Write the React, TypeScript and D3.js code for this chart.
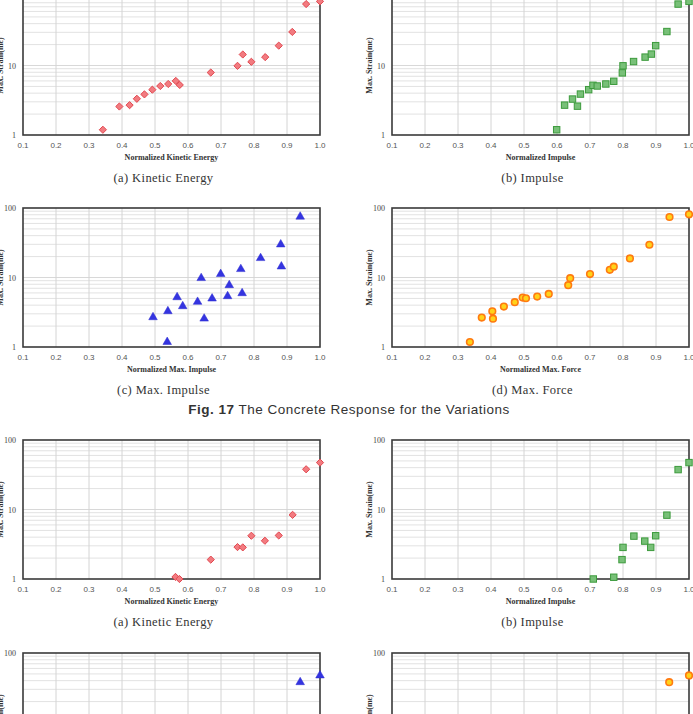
import * as d3 from 'd3';
import React from 'react';

// normalized value / max strain pairs
const keTop: [number, number][] = [
  [0.342, 1.19], [0.392, 2.57], [0.423, 2.69], [0.445, 3.32], [0.468, 3.84],
  [0.492, 4.49], [0.516, 5.07], [0.54, 5.42], [0.563, 6.0], [0.575, 5.25],
  [0.669, 7.92], [0.75, 9.89], [0.766, 14.4], [0.792, 11.3], [0.834, 13.2],
  [0.875, 19.3], [0.916, 30.4], [0.958, 76.6], [1.0, 83.7],
];
const impTop: [number, number][] = [
  [0.599, 1.19], [0.623, 2.69], [0.647, 3.29], [0.662, 2.6], [0.671, 3.88],
  [0.696, 4.49], [0.709, 5.19], [0.722, 5.07], [0.748, 5.42], [0.772, 5.93],
  [0.798, 7.83], [0.8, 9.9], [0.832, 11.4], [0.867, 13.2], [0.886, 14.6],
  [0.899, 19.3], [0.933, 30.8], [0.967, 76.5], [1.0, 83.7],
];
const maxImpTop: [number, number][] = [
  [0.494, 2.68], [0.537, 1.18], [0.539, 3.27], [0.567, 5.2], [0.584, 3.86],
  [0.629, 4.46], [0.64, 9.8], [0.649, 2.56], [0.673, 4.98], [0.699, 11.2],
  [0.72, 5.38], [0.725, 7.75], [0.76, 13.2], [0.764, 5.94], [0.82, 19.0],
  [0.881, 29.9], [0.883, 14.4], [0.94, 75.0],
];
const forceTop: [number, number][] = [
  [0.336, 1.18], [0.372, 2.65], [0.404, 3.27], [0.406, 2.56], [0.439, 3.82],
  [0.472, 4.41], [0.496, 5.15], [0.506, 5.03], [0.54, 5.32], [0.575, 5.81],
  [0.634, 7.75], [0.64, 9.78], [0.7, 11.2], [0.76, 12.9], [0.772, 14.3],
  [0.821, 18.8], [0.88, 29.6], [0.941, 74.2], [1.0, 81.1],
];
const keBottom: [number, number][] = [
  [0.562, 1.07], [0.574, 1.0], [0.669, 1.9], [0.75, 2.88], [0.766, 2.85],
  [0.792, 4.19], [0.833, 3.55], [0.875, 4.23], [0.917, 8.38], [0.958, 37.9],
  [1.0, 47.3],
];
const impBottom: [number, number][] = [
  [0.71, 1.0], [0.772, 1.06], [0.797, 1.9], [0.8, 2.85], [0.833, 4.14],
  [0.866, 3.51], [0.884, 2.85], [0.899, 4.19], [0.933, 8.29], [0.967, 37.5],
  [1.0, 47.3],
];
const maxImpBottom: [number, number][] = [[0.94, 38.0], [1.0, 47.5]];
const forceBottom: [number, number][] = [[0.94, 38.0], [1.0, 47.5]];

const xTicks = [0.1, 0.2, 0.3, 0.4, 0.5, 0.6, 0.7, 0.8, 0.9, 1.0];
const yTicks = [1, 10, 100];

type Marker = 'diamond' | 'square' | 'triangle' | 'circle';

interface PanelProps {
  left: number;
  top: number;
  data: [number, number][];
  marker: Marker;
  xTitle: string;
  caption: string;
}

const W = 297;
const H = 139;

function Dot({ kind, x, y }: { kind: Marker; x: number; y: number }) {
  if (kind === 'diamond') {
    const s = 3.6;
    return (
      <path
        d={`M${x},${y - s}L${x + s},${y}L${x},${y + s}L${x - s},${y}Z`}
        fill='#f27b80'
        stroke='#e2474f'
        strokeWidth={1}
      />
    );
  }
  if (kind === 'square') {
    return (
      <rect x={x - 3.2} y={y - 3.2} width={6.4} height={6.4} fill='#78c078' stroke='#3c9a3c' strokeWidth={1} />
    );
  }
  if (kind === 'triangle') {
    const p = d3.symbol().type(d3.symbolTriangle).size(32)();
    return <path d={p || ''} transform={`translate(${x},${y})`} fill='#3434e0' stroke='#2a2ad0' strokeWidth={0.5} />;
  }
  return <circle cx={x} cy={y} r={3.3} fill='#ffd21a' stroke='#ff7a10' strokeWidth={1.6} />;
}

function Panel({ left, top, data, marker, xTitle, caption }: PanelProps) {
  const x = d3.scaleLinear().domain([0.1, 1]).range([left, left + W]);
  const y = d3.scaleLog().domain([1, 100]).range([top + H, top]);

  const minor: number[] = [];
  [1, 10].forEach((d) => {
    for (let k = 2; k <= 9; k++) minor.push(d * k);
  });

  const bottom = top + H;
  return (
    <g>
      {minor.map((v) => (
        <line key={'h' + v} x1={left} x2={left + W} y1={y(v)} y2={y(v)} stroke='#e2e2e2' strokeWidth={1} />
      ))}
      <line x1={left} x2={left + W} y1={y(10)} y2={y(10)} stroke='#d8d8d8' strokeWidth={1} />
      {xTicks.slice(1, -1).map((t) => (
        <line key={'v' + t} x1={x(t)} x2={x(t)} y1={top} y2={bottom} stroke='#d4d4d4' strokeWidth={1} />
      ))}
      <rect x={left} y={top} width={W} height={H} fill='none' stroke='#3a3a3a' strokeWidth={1.6} />
      {xTicks.map((t) => (
        <text
          key={'xt' + t}
          x={x(t)}
          y={bottom + 13}
          textAnchor='middle'
          fontFamily='Liberation Sans, Arial, sans-serif'
          fontSize={8}
          fill='#555'
        >
          {t.toFixed(1)}
        </text>
      ))}
      {yTicks.map((t) => (
        <text
          key={'yt' + t}
          x={left - 7}
          y={y(t) + 3}
          textAnchor='end'
          fontFamily='Liberation Serif, serif'
          fontSize={8}
          fill='#444'
        >
          {t}
        </text>
      ))}
      <text
        x={left + W / 2}
        y={bottom + 25}
        textAnchor='middle'
        fontFamily='Liberation Serif, serif'
        fontWeight='bold'
        fontSize={8}
        fill='#333'
      >
        {xTitle}
      </text>
      <text
        transform={`translate(${left - 20},${top + H / 2}) rotate(-90)`}
        textAnchor='middle'
        fontFamily='Liberation Serif, serif'
        fontWeight='bold'
        fontSize={8}
        fill='#333'
      >
        Max. Strain(mε)
      </text>
      <text
        x={left + W / 2 - 8}
        y={bottom + 47}
        textAnchor='middle'
        fontFamily='Liberation Serif, serif'
        fontSize={12.5}
        letterSpacing={0.4}
        fill='#333'
      >
        {caption}
      </text>
      {data.map(([a, b], i) => (
        <Dot key={i} kind={marker} x={x(a)} y={y(b)} />
      ))}
    </g>
  );
}

export default function App() {
  const L = 23;
  const R = 392;
  return (
    <svg
      width={693}
      height={714}
      style={{ position: 'absolute', left: 0, top: 0, background: '#fff' }}
    >
      <Panel left={L} top={-4} data={keTop} marker='diamond' xTitle='Normalized Kinetic Energy' caption='(a) Kinetic Energy' />
      <Panel left={R} top={-4} data={impTop} marker='square' xTitle='Normalized Impulse' caption='(b) Impulse' />
      <Panel left={L} top={208} data={maxImpTop} marker='triangle' xTitle='Normalized Max. Impulse' caption='(c) Max. Impulse' />
      <Panel left={R} top={208} data={forceTop} marker='circle' xTitle='Normalized Max. Force' caption='(d) Max. Force' />
      <text x={349} y={414} textAnchor='middle' fontFamily='Liberation Sans, Arial, sans-serif' fontSize={13.5} fill='#333' letterSpacing={0.5}>
        <tspan fontWeight='bold'>Fig. 17</tspan> The Concrete Response for the Variations
      </text>
      <Panel left={L} top={440} data={keBottom} marker='diamond' xTitle='Normalized Kinetic Energy' caption='(a) Kinetic Energy' />
      <Panel left={R} top={440} data={impBottom} marker='square' xTitle='Normalized Impulse' caption='(b) Impulse' />
      <Panel left={L} top={653} data={maxImpBottom} marker='triangle' xTitle='Normalized Max. Impulse' caption='(c) Max. Impulse' />
      <Panel left={R} top={653} data={forceBottom} marker='circle' xTitle='Normalized Max. Force' caption='(d) Max. Force' />
    </svg>
  );
}
